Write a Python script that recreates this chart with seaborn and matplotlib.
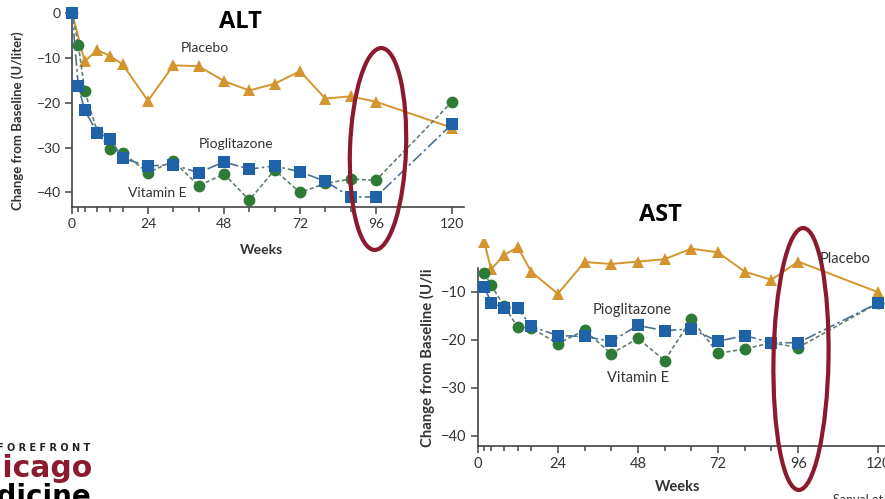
import matplotlib.pyplot as plt
from matplotlib.patches import Ellipse
import seaborn as sns

# ALT panel values (change from baseline, U/liter)
alt_weeks = [0, 2, 4, 8, 12, 16, 24, 32, 40, 48, 56, 64, 72, 80, 88, 96, 120]
alt_placebo_weeks = [0, 4, 8, 12, 16, 24, 32, 40, 48, 56, 64, 72, 80, 88, 96, 120]
alt_placebo = [0, -10.8, -8.3, -9.6, -11.5, -19.6, -11.7, -11.9, -15.2, -17.3, -15.8, -13.0, -19.1, -18.6, -19.8, -25.6]
alt_pio = [0, -16.3, -21.7, -26.7, -28.0, -32.4, -34.1, -33.8, -35.6, -33.2, -34.8, -34.1, -35.4, -37.5, -41.0, -41.0, -24.8]
alt_vite = [0, -7.1, -17.4, -26.5, -30.4, -31.2, -35.6, -33.0, -38.5, -35.9, -41.7, -35.0, -40.0, -38.0, -37.0, -37.3, -19.8]

# AST panel values (the pasted image is cropped, week 0 not visible)
ast_weeks = [2, 4, 8, 12, 16, 24, 32, 40, 48, 56, 64, 72, 80, 88, 96, 120]
ast_placebo = [0.3, -5.3, -2.3, -0.7, -5.8, -10.4, -3.8, -4.2, -3.7, -3.2, -1.0, -1.8, -5.8, -7.5, -3.7, -10.1]
ast_pio = [-8.9, -12.3, -13.4, -13.4, -17.2, -19.1, -19.3, -20.3, -17.0, -18.1, -17.7, -20.3, -19.1, -20.6, -20.6, -12.3]
ast_vite = [-6.1, -8.6, -13.0, -17.4, -17.5, -20.8, -18.0, -22.9, -19.7, -24.3, -15.7, -22.8, -21.9, -20.6, -21.6, -12.3]

major_weeks = [0, 24, 48, 72, 96, 120]
minor_weeks = [2, 4, 8, 12, 16, 32, 40, 56, 64, 80, 88]

PLACEBO = "#D4952E"
PIO = "#1F62A8"
PIO_LINE = "#4C7096"
VITE = "#2E7A37"
VITE_LINE = "#62806F"
AXIS = "#444444"
MAROON = "#8B1A2E"

sns.set_theme(style="white")
plt.rcParams['font.family'] = ['Lato', 'DejaVu Sans']

fig = plt.figure(figsize=(8.85, 4.99), dpi=100)


def draw_panel(ax, pla_weeks, pla, weeks, pio, vite, clip, labelsize):
    sns.lineplot(x=pla_weeks, y=pla, ax=ax, color=PLACEBO, lw=1.4, marker='^',
                 markersize=9, markerfacecolor=PLACEBO, markeredgecolor=PLACEBO,
                 markeredgewidth=0, clip_on=clip, zorder=3)
    sns.lineplot(x=weeks, y=vite, ax=ax, color=VITE_LINE, lw=1.2, linestyle=(0, (2.5, 1.5)),
                 marker='o', markersize=8.5, markerfacecolor=VITE, markeredgecolor=VITE,
                 markeredgewidth=0, clip_on=clip, zorder=4)
    sns.lineplot(x=weeks, y=pio, ax=ax, color=PIO_LINE, lw=1.2, linestyle=(0, (7, 2, 1.5, 2)),
                 marker='s', markersize=8, markerfacecolor=PIO, markeredgecolor=PIO,
                 markeredgewidth=0, clip_on=clip, zorder=5)
    sns.despine(ax=ax)
    for s in ['left', 'bottom']:
        ax.spines[s].set_color(AXIS)
        ax.spines[s].set_linewidth(1.2)
    ax.set_xticks(major_weeks)
    ax.set_xticks(minor_weeks, minor=True)
    ax.tick_params(axis='both', which='major', direction='out', length=5, width=1.1,
                   color=AXIS, labelsize=labelsize, labelcolor='#333333', pad=3,
                   bottom=True, left=True)
    ax.tick_params(axis='x', which='minor', direction='out', length=3.5, width=1.1,
                   color=AXIS, bottom=True)
    ax.set_xlabel('')
    ax.set_ylabel('')
    ax.set_facecolor('none')


# ALT axes (pixel box 72..464 x 10.5..207)
ax1 = fig.add_axes([72 / 885, 1 - 207.3 / 499, 392 / 885, (207.3 - 10.5) / 499])
draw_panel(ax1, alt_placebo_weeks, alt_placebo, alt_weeks, alt_pio, alt_vite, False, 10)
ax1.set_xlim(0, 123.8)
ax1.set_ylim(-43.3, 0.5)
ax1.set_yticks([0, -10, -20, -30, -40])

# AST axes (pixel box 477.7..885 x 239..446)
ax2 = fig.add_axes([477.7 / 885, 1 - 446 / 499, (885 - 477.7) / 885, 207 / 499])
draw_panel(ax2, ast_weeks, ast_placebo, ast_weeks, ast_pio, ast_vite, True, 10.5)
ax2.set_xlim(0, 122.0)
ax2.set_ylim(-42.1, 1.0)
ax2.set_yticks([-10, -20, -30, -40])
ax2.spines['left'].set_bounds(-42.1, -5.0)

# overlay in pixel coordinates for slide texts and highlights
ov = fig.add_axes([0, 0, 1, 1], zorder=10)
ov.set_xlim(0, 885)
ov.set_ylim(499, 0)
ov.axis('off')
ov.patch.set_alpha(0)

txt = '#333333'
ov.text(240, 22, 'ALT', fontsize=17, fontweight='bold', color='black', ha='center', va='center',
        family=['Open Sans', 'DejaVu Sans'])
ov.text(660, 215, 'AST', fontsize=17, fontweight='bold', color='black', ha='center', va='center',
        family=['Open Sans', 'DejaVu Sans'])

ov.text(18, 210, 'Change from Baseline (U/liter)', rotation=90, fontsize=9.5, fontweight='bold',
        color=txt, ha='center', va='bottom')
ov.text(427, 447, 'Change from Baseline (U/li', rotation=90, fontsize=10.7, fontweight='bold',
        color=txt, ha='center', va='bottom')
ov.text(262, 250, 'Weeks', fontsize=10, fontweight='bold', color=txt, ha='center', va='center')
ov.text(678, 487, 'Weeks', fontsize=10.5, fontweight='bold', color=txt, ha='center', va='center')

ov.text(205, 48, 'Placebo', fontsize=10, color=txt, ha='center', va='center')
ov.text(236, 144, 'Pioglitazone', fontsize=10, color=txt, ha='center', va='center')
ov.text(157, 193, 'Vitamin E', fontsize=10, color=txt, ha='center', va='center')
ov.text(820, 259, 'Placebo', fontsize=10.5, color=txt, ha='left', va='center')
ov.text(632, 310, 'Pioglitazone', fontsize=10.5, color=txt, ha='center', va='center')
ov.text(638, 378, 'Vitamin E', fontsize=10.5, color=txt, ha='center', va='center')

# highlight ellipses around week 96
ov.add_patch(Ellipse((378, 149), 56, 202, angle=2, fill=False, edgecolor=MAROON, lw=3))
ov.add_patch(Ellipse((801, 359), 55, 262, angle=1, fill=False, edgecolor=MAROON, lw=3))

# cropped logo, bottom left (cut by the slide edge as in the reference)
logo_font = ['DejaVu Sans']
ov.text(90, 448, 'F O R E F R O N T', fontsize=7, fontweight='bold', color='#222222',
        ha='right', va='center', family=logo_font)
ov.text(92, 477, 'UChicago', fontsize=21.5, fontweight='bold', color=MAROON, ha='right',
        va='baseline', family=logo_font)
ov.text(91, 505, 'Medicine', fontsize=20, fontweight='bold', color='black', ha='right',
        va='baseline', family=logo_font)
ov.text(833, 494, 'Sanyal et al.', fontsize=9, color=txt, ha='left', va='top')

fig.savefig('out.png', dpi=100)
